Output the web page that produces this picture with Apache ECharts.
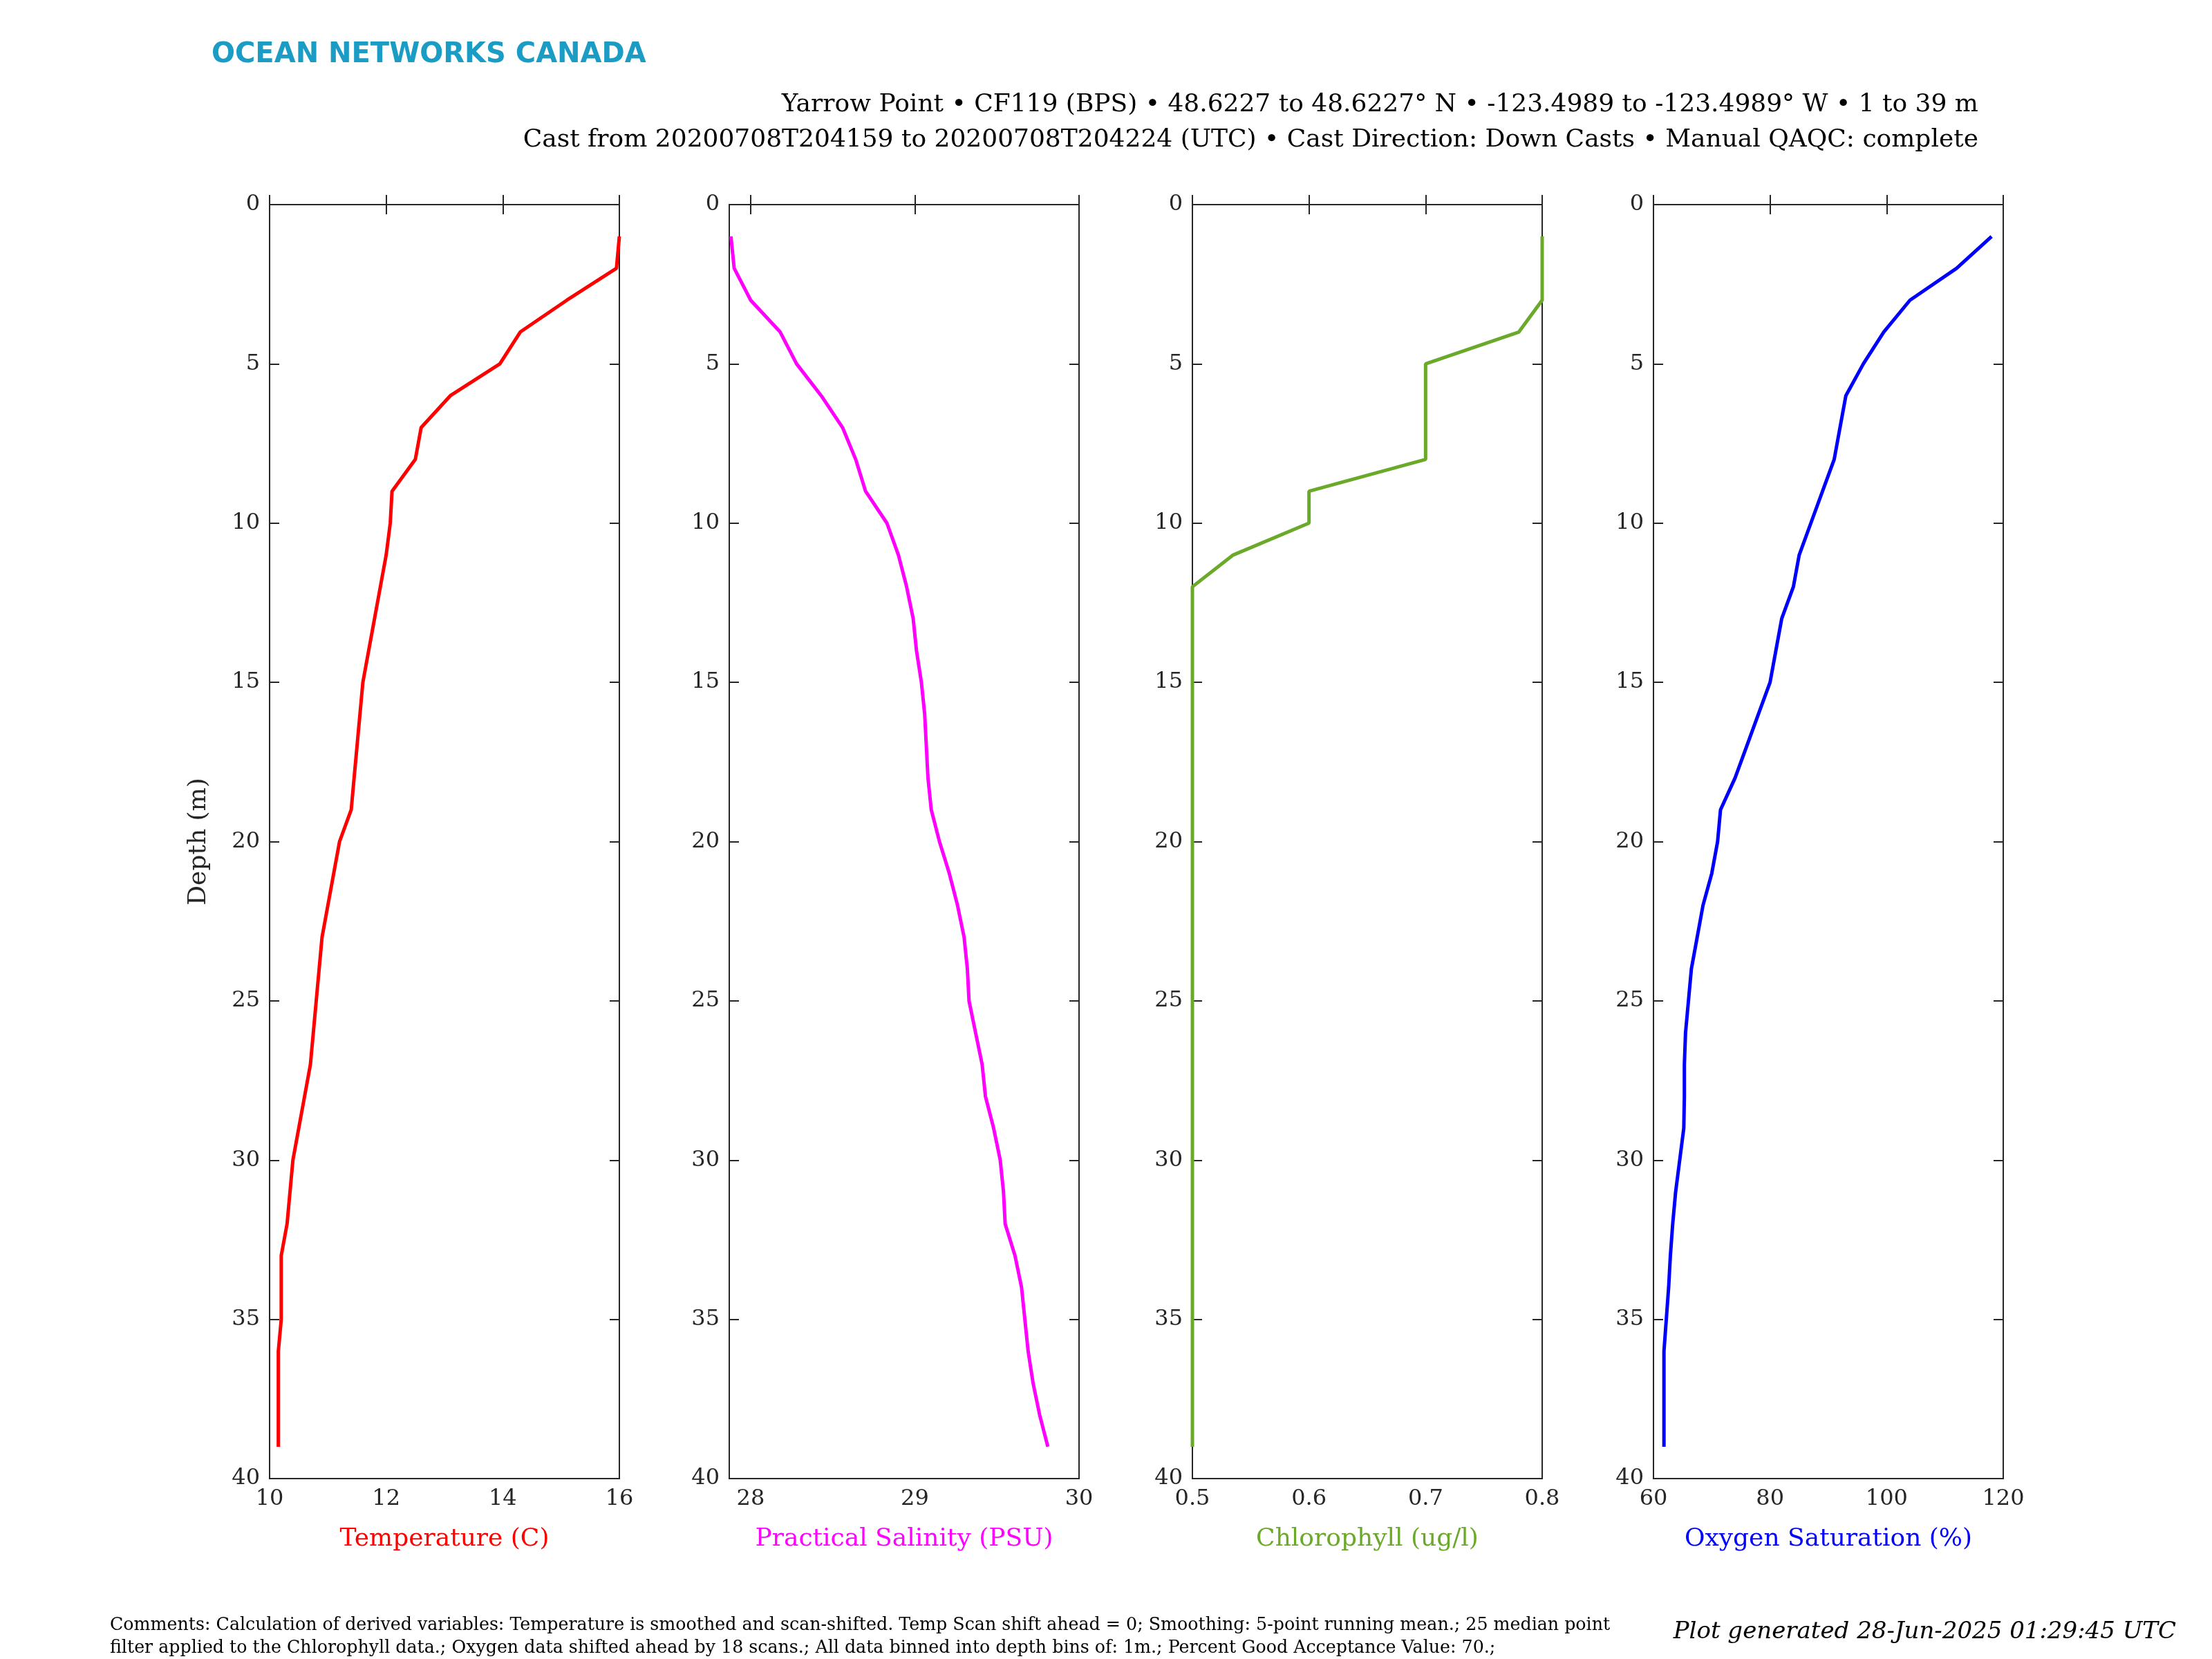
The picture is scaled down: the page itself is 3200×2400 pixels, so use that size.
<!DOCTYPE html>
<html>
<head>
<meta charset="utf-8">
<script src="https://cdn.jsdelivr.net/npm/echarts@6/dist/echarts.min.js"></script>
<style>html,body{margin:0;padding:0;background:#fff}#chart{width:3200px;height:2400px}</style>
</head>
<body>
<div id="chart"></div>
<script>
const depths = [1,2,3,4,5,6,7,8,9,10,11,12,13,14,15,16,17,18,19,20,21,22,23,24,25,26,27,28,29,30,31,32,33,34,35,36,37,38,39];
const temperature = [16.0,15.95,15.1,14.3,13.95,13.1,12.6,12.5,12.1,12.07,12.0,11.9,11.8,11.7,11.6,11.55,11.5,11.45,11.4,11.2,11.1,11.0,10.9,10.85,10.8,10.75,10.7,10.6,10.5,10.4,10.35,10.3,10.2,10.2,10.2,10.15,10.15,10.15,10.15];
const salinity = [27.88,27.9,28.0,28.18,28.28,28.43,28.56,28.64,28.7,28.83,28.9,28.95,28.99,29.01,29.04,29.06,29.07,29.08,29.1,29.15,29.21,29.26,29.3,29.32,29.33,29.37,29.41,29.43,29.48,29.52,29.54,29.55,29.61,29.65,29.67,29.69,29.72,29.76,29.81];
const chlorophyll = [0.8,0.8,0.8,0.78,0.7,0.7,0.7,0.7,0.6,0.6,0.535,0.5,0.5,0.5,0.5,0.5,0.5,0.5,0.5,0.5,0.5,0.5,0.5,0.5,0.5,0.5,0.5,0.5,0.5,0.5,0.5,0.5,0.5,0.5,0.5,0.5,0.5,0.5,0.5];
const oxygen = [118,112,104,99.5,96,93,92,91,89,87,85,84,82,81,80,78,76,74,71.5,71,70,68.5,67.5,66.5,66,65.5,65.3,65.3,65.2,64.5,63.8,63.3,62.9,62.6,62.2,61.8,61.8,61.8,61.8];

const panels = [
  {name: 'Temperature (C)', color: '#ff0000', values: temperature, min: 10, max: 16, ticks: [10,12,14,16]},
  {name: 'Practical Salinity (PSU)', color: '#ff00ff', values: salinity, min: 27.87, max: 30, ticks: [28,29,30]},
  {name: 'Chlorophyll (ug/l)', color: '#6aa92a', values: chlorophyll, min: 0.5, max: 0.8, ticks: [0.5,0.6,0.7,0.8]},
  {name: 'Oxygen Saturation (%)', color: '#0000ff', values: oxygen, min: 60, max: 120, ticks: [60,80,100,120]}
];
const lefts = [390, 1055, 1725, 2392];
const depthTicks = [0,5,10,15,20,25,30,35,40];

const font = 'DejaVu Serif';
const axisCol = '#262626';
const grid = [], xAxis = [], yAxis = [], series = [];
panels.forEach((p, i) => {
  grid.push({left: lefts[i], top: 296, width: 506, height: 1843, show: true, borderColor: axisCol, borderWidth: 2});
  const lineStyle = {show: true, lineStyle: {color: axisCol, width: 2}};
  const tick = {show: true, inside: true, length: 14, customValues: p.ticks, lineStyle: {color: axisCol, width: 2}};
  xAxis.push({type: 'value', gridIndex: i, position: 'bottom', min: p.min, max: p.max,
    axisLine: lineStyle, axisTick: tick, splitLine: {show: false},
    axisLabel: {customValues: p.ticks, color: axisCol, fontFamily: font, fontSize: 32, margin: 14},
    name: p.name, nameLocation: 'middle', nameGap: 70, nameTextStyle: {color: p.color, fontFamily: font, fontSize: 36}});
  xAxis.push({type: 'value', gridIndex: i, position: 'top', min: p.min, max: p.max,
    axisLine: lineStyle, axisTick: tick, axisLabel: {show: false}, splitLine: {show: false}});
  const ytick = {show: true, inside: true, length: 14, customValues: depthTicks, lineStyle: {color: axisCol, width: 2}};
  yAxis.push({type: 'value', gridIndex: i, position: 'left', inverse: true, min: 0, max: 40, interval: 5,
    axisLine: lineStyle, axisTick: ytick, splitLine: {show: false},
    axisLabel: {color: axisCol, fontFamily: font, fontSize: 32, margin: 14},
    name: i === 0 ? 'Depth (m)' : '', nameLocation: 'middle', nameGap: 84,
    nameTextStyle: {color: axisCol, fontFamily: font, fontSize: 36}});
  yAxis.push({type: 'value', gridIndex: i, position: 'right', inverse: true, min: 0, max: 40, interval: 5,
    axisLine: lineStyle, axisTick: ytick, axisLabel: {show: false}, splitLine: {show: false}});
  series.push({type: 'line', xAxisIndex: i * 2, yAxisIndex: i * 2, showSymbol: false,
    lineStyle: {color: p.color, width: 5}, data: depths.map((d, k) => [p.values[k], d])});
});

const chart = echarts.init(document.getElementById('chart'));
chart.setOption({
  backgroundColor: '#fff',
  animation: false,
  grid, xAxis, yAxis, series,
  graphic: [
    {type: 'text', left: 306, top: 60, style: {text: 'OCEAN NETWORKS CANADA', fill: '#1a9cc4', font: 'bold 40px "DejaVu Sans"'}},
    {type: 'text', right: 338, top: 134, style: {text: 'Yarrow Point \u2022 CF119 (BPS) \u2022 48.6227 to 48.6227\u00B0 N \u2022 -123.4989 to -123.4989\u00B0 W \u2022 1 to 39 m', fill: '#000', font: '36px "DejaVu Serif"', align: 'right'}},
    {type: 'text', right: 338, top: 185, style: {text: 'Cast from 20200708T204159 to 20200708T204224 (UTC) \u2022 Cast Direction: Down Casts \u2022 Manual QAQC: complete', fill: '#000', font: '36px "DejaVu Serif"', align: 'right'}},
    {type: 'text', left: 159, top: 2335, style: {text: 'Comments: Calculation of derived variables: Temperature is smoothed and scan-shifted. Temp Scan shift ahead = 0; Smoothing: 5-point running mean.; 25 median point\nfilter applied to the Chlorophyll data.; Oxygen data shifted ahead by 18 scans.; All data binned into depth bins of: 1m.; Percent Good Acceptance Value: 70.;', fill: '#000', font: '25.3px "DejaVu Serif"', lineHeight: 33}},
    {type: 'text', right: 52, top: 2344, style: {text: 'Plot generated 28-Jun-2025 01:29:45 UTC', fill: '#000', font: 'italic 34px "DejaVu Serif"', align: 'right'}}
  ]
});
</script>
</body>
</html>
